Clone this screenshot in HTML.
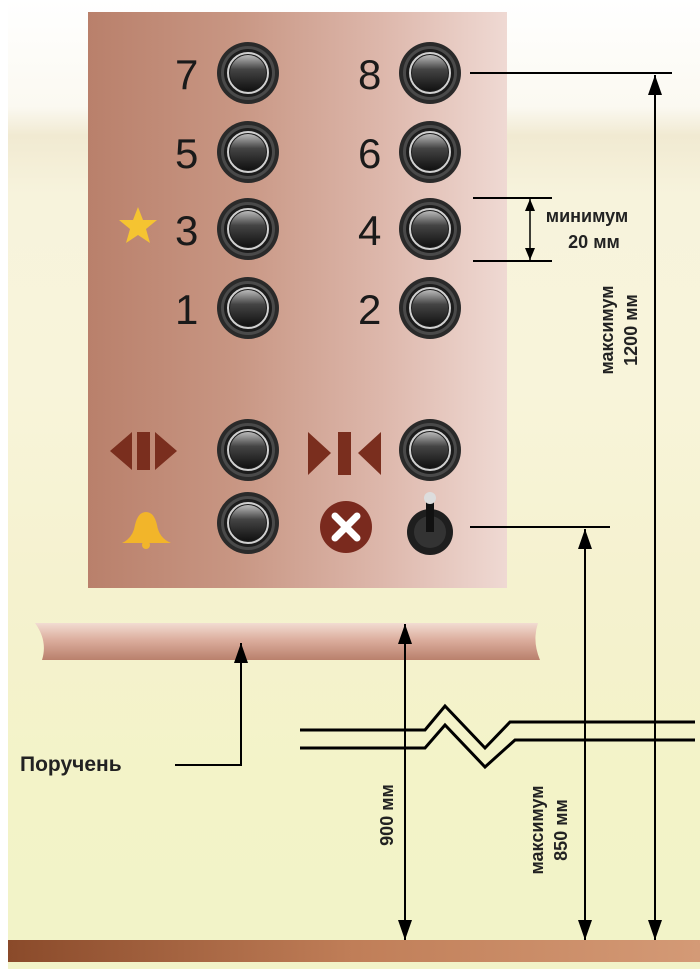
<!DOCTYPE html>
<html><head><meta charset="utf-8"><style>
html,body{margin:0;padding:0;width:700px;height:969px;overflow:hidden;background:#fff}
svg{display:block}
text{font-family:"Liberation Sans","DejaVu Sans",sans-serif}
</style></head><body>
<svg width="700" height="969" viewBox="0 0 700 969" xmlns="http://www.w3.org/2000/svg">
<defs>
<linearGradient id="bg" x1="0" y1="0" x2="0" y2="1">
<stop offset="0" stop-color="#ffffff"/>
<stop offset="0.11" stop-color="#fbf9f1"/>
<stop offset="0.14" stop-color="#f1ead2"/>
<stop offset="0.2" stop-color="#f7f3dc"/>
<stop offset="0.4" stop-color="#f8f4da"/>
<stop offset="0.6" stop-color="#f5f2cf"/>
<stop offset="0.8" stop-color="#f3f3c8"/>
<stop offset="1" stop-color="#f2f3c8"/>
</linearGradient>
<linearGradient id="panel" x1="0" y1="0" x2="1" y2="0">
<stop offset="0" stop-color="#b9806b"/>
<stop offset="0.35" stop-color="#c89683"/>
<stop offset="0.7" stop-color="#ddb7ab"/>
<stop offset="1" stop-color="#efd9d3"/>
</linearGradient>
<linearGradient id="rail" x1="0" y1="0" x2="0" y2="1">
<stop offset="0" stop-color="#f2dcd2"/>
<stop offset="0.45" stop-color="#dcae9e"/>
<stop offset="1" stop-color="#b9806c"/>
</linearGradient>
<linearGradient id="floor" x1="0" y1="0" x2="1" y2="0">
<stop offset="0" stop-color="#8a4a2a"/>
<stop offset="0.5" stop-color="#c07e58"/>
<stop offset="1" stop-color="#d49a76"/>
</linearGradient>
<linearGradient id="btn" x1="0" y1="0" x2="0" y2="1">
<stop offset="0" stop-color="#bbb"/>
<stop offset="0.4" stop-color="#444"/>
<stop offset="1" stop-color="#111"/>
</linearGradient>
<g id="b">
<circle r="31" fill="#2a2a2a"/>
<circle r="27" fill="#4a4a4a"/>
<circle r="24" fill="#1c1c1c"/>
<circle r="20" fill="none" stroke="#d0d0d0" stroke-width="2"/>
<circle r="18" fill="url(#btn)"/>
</g>
<marker id="ah" viewBox="0 0 20 14" refX="20" refY="7" markerWidth="20" markerHeight="14" markerUnits="userSpaceOnUse" orient="auto-start-reverse"><path d="M0,0 L20,7 L0,14 z" fill="#000"/></marker>
<marker id="ahs" viewBox="0 0 12 10" refX="12" refY="5" markerWidth="12" markerHeight="10" markerUnits="userSpaceOnUse" orient="auto-start-reverse"><path d="M0,0 L12,5 L0,10 z" fill="#000"/></marker>
</defs>
<rect width="700" height="969" fill="url(#bg)"/>
<rect x="0" y="0" width="8" height="969" fill="#fff"/>
<rect x="88" y="12" width="419" height="576" fill="url(#panel)"/>
<g font-size="42" fill="#1a1a1a">
<text x="175" y="89">7</text><text x="175" y="168">5</text><text x="175" y="245">3</text><text x="175" y="324">1</text>
<text x="358" y="89">8</text><text x="358" y="168">6</text><text x="358" y="245">4</text><text x="358" y="324">2</text>
</g>
<use href="#b" x="248" y="73"/><use href="#b" x="248" y="152"/><use href="#b" x="248" y="229"/><use href="#b" x="248" y="308"/>
<use href="#b" x="430" y="73"/><use href="#b" x="430" y="152"/><use href="#b" x="430" y="229"/><use href="#b" x="430" y="308"/>
<use href="#b" x="248" y="450"/><use href="#b" x="248" y="523"/><use href="#b" x="430" y="450"/>
<polygon points="138,207 143,220 157,220 146,229 150,243 138,235 126,243 130,229 119,220 133,220" fill="#f5c431"/>
<g fill="#7a2e1e"><polygon points="110,451 132,432 132,470"/><rect x="137" y="432" width="13" height="38"/><polygon points="155,432 155,470 177,451"/></g>
<g fill="#7a2e1e"><polygon points="308,432 308,475 331,453"/><rect x="338" y="432" width="13" height="43"/><polygon points="381,432 381,475 358,453"/></g>
<path d="M122,543 Q133,538 135,525 Q138,512 146,512 Q154,512 157,525 Q159,538 171,543 Z" fill="#f2b52a"/><circle cx="146" cy="545" r="4" fill="#f2b52a"/>
<circle cx="346" cy="527" r="26" fill="#7a2a1e"/>
<path d="M335,516 L357,538 M357,516 L335,538" stroke="#fff" stroke-width="7" stroke-linecap="round"/>
<circle cx="430" cy="532" r="23" fill="#1e1e1e"/><circle cx="430" cy="532" r="16" fill="#333"/>
<rect x="426" y="498" width="8" height="34" fill="#111"/><circle cx="430" cy="498" r="6" fill="#ddd"/>
<path d="M35,623 L538,623 Q532,641 540,660 L42,660 Q48,641 35,623 Z" fill="url(#rail)"/>
<rect x="8" y="940" width="692" height="22" fill="url(#floor)"/>
<g stroke="#000" stroke-width="2" fill="none">
<line x1="470" y1="73" x2="672" y2="73"/>
<line x1="655" y1="75" x2="655" y2="940" marker-start="url(#ah)" marker-end="url(#ah)"/>
<line x1="473" y1="198" x2="552" y2="198"/><line x1="473" y1="261" x2="552" y2="261"/>
<line x1="530" y1="199" x2="530" y2="260" stroke-width="1.5" marker-start="url(#ahs)" marker-end="url(#ahs)"/>
<line x1="470" y1="527" x2="610" y2="527"/>
<line x1="585" y1="529" x2="585" y2="940" marker-start="url(#ah)" marker-end="url(#ah)"/>
<line x1="405" y1="624" x2="405" y2="940" marker-start="url(#ah)" marker-end="url(#ah)"/>
<polyline points="175,765 241,765 241,643" marker-end="url(#ah)"/>
<polyline stroke-width="3" points="300,730 425,730 445,706 485,748 510,722 695,722"/>
<polyline stroke-width="3" points="300,748 425,748 445,725 485,767 515,740 695,740"/>
</g>
<g font-weight="bold" fill="#222" font-size="18">
<text x="587" y="222" text-anchor="middle">минимум</text>
<text x="594" y="248" text-anchor="middle">20 мм</text>
<text x="20" y="771" font-size="21">Поручень</text>
<text transform="translate(613,330) rotate(-90)" text-anchor="middle">максимум</text>
<text transform="translate(637,330) rotate(-90)" text-anchor="middle">1200 мм</text>
<text transform="translate(393,815) rotate(-90)" text-anchor="middle">900 мм</text>
<text transform="translate(543,830) rotate(-90)" text-anchor="middle">максимум</text>
<text transform="translate(567,830) rotate(-90)" text-anchor="middle">850 мм</text>
</g>
</svg>
</body></html>
